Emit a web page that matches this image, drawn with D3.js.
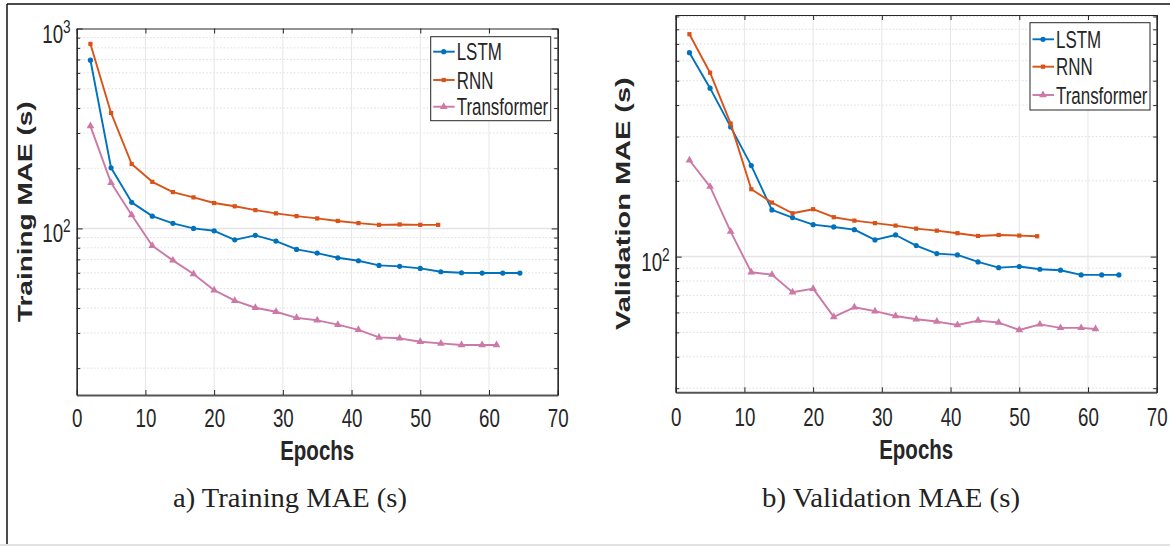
<!DOCTYPE html>
<html>
<head>
<meta charset="utf-8">
<script src="https://cdn.jsdelivr.net/npm/d3@7"></script>
<style>
  body { margin: 0; background: #fff; }
  svg { display: block; }
</style>
</head>
<body>
<div id="chart"></div>
<script>
// epochs at which each model was logged
const lstmEpochs  = [2, 5, 8, 11, 14, 17, 20, 23, 26, 29, 32, 35, 38, 41, 44, 47, 50, 53, 56, 59, 62, 64.5];
const rnnEpochs   = [2, 5, 8, 11, 14, 17, 20, 23, 26, 29, 32, 35, 38, 41, 44, 47, 50, 52.6];
const transEpochs = [2, 5, 8, 11, 14, 17, 20, 23, 26, 29, 32, 35, 38, 41, 44, 47, 50, 53, 56, 59, 61.1];

// training MAE (s)
const trainLSTM  = [694, 201, 135, 115.2, 106, 100, 97.3, 87.7, 92.3, 86.4, 78.5, 75.2, 71.3, 68.9, 65.3, 64.6, 63.1, 60.7, 60.0, 59.8, 59.8, 59.8];
const trainRNN   = [837, 378, 210, 171, 152, 143, 134, 129, 123.5, 118.9, 115.2, 112.2, 109, 106.3, 104.2, 104.7, 104.2, 104.2];
const trainTrans = [325, 169, 116.6, 81.9, 69.2, 59.1, 49.1, 43.5, 40.1, 38.3, 35.7, 34.7, 33, 31.1, 28.5, 28.2, 27.1, 26.6, 26.1, 26.1, 26.1];

// validation MAE (s)
const valLSTM  = [646, 467, 327.6, 229.9, 153.3, 142.9, 134, 131.2, 128, 116.5, 121.9, 110.6, 102.8, 101.6, 95.3, 90.4, 91.3, 89.1, 88.3, 84.6, 84.6, 84.6];
const valRNN   = [765, 538, 337.6, 185.3, 163.9, 148.7, 154.3, 143.4, 139, 135.8, 132.8, 129.2, 126.8, 123.9, 120.8, 121.9, 121.2, 120.5];
const valTrans = [241.5, 189.7, 125.7, 86.7, 84.8, 72.2, 74.6, 57.6, 62.9, 60.7, 58.1, 56.4, 55.2, 53.5, 55.7, 54.7, 51.1, 53.8, 52.1, 52.1, 51.6];

const seriesNames = ['LSTM', 'RNN', 'Transformer'];
const xTicks = [0, 10, 20, 30, 40, 50, 60, 70];
const yMajor = [10, 100, 1000];
const yMinor = [20, 30, 40, 50, 60, 70, 80, 90, 200, 300, 400, 500, 600, 700, 800, 900];

const colors = { LSTM: '#0072BD', RNN: '#D95319', Transformer: '#CC79A7' };
const axisColor = '#262626';
const sx = 0.72; // text looks squeezed sideways

const svg = d3.select('#chart').append('svg')
  .attr('width', 1170)
  .attr('height', 546)
  .style('background', '#fff');

// outer frame
svg.append('line').attr('x1', 7).attr('y1', 4).attr('x2', 1170).attr('y2', 4)
  .attr('stroke', '#111').attr('stroke-width', 1.5);
svg.append('line').attr('x1', 7).attr('y1', 4).attr('x2', 7).attr('y2', 544)
  .attr('stroke', '#111').attr('stroke-width', 1.5);
svg.append('line').attr('x1', 0).attr('y1', 545).attr('x2', 1170).attr('y2', 545)
  .attr('stroke', '#e2e2e2').attr('stroke-width', 2);

function marker(sel, name, cx, cy, col) {
  if (name === 'LSTM') {
    sel.append('circle').attr('cx', cx).attr('cy', cy).attr('r', 2.6).attr('fill', col);
  } else if (name === 'RNN') {
    sel.append('path').attr('d', d3.symbol(d3.symbolSquare, 18)())
      .attr('transform', `translate(${cx},${cy})`).attr('fill', col);
  } else {
    sel.append('path').attr('d', d3.symbol(d3.symbolTriangle, 26)())
      .attr('transform', `translate(${cx},${cy})`).attr('fill', col);
  }
}

function drawPanel(p) {
  const x = d3.scaleLinear().domain([0, 70]).range([p.x0, p.x1]);
  const y = d3.scaleLog().domain(p.yDomain).range([p.y1, p.y0]);
  const g = svg.append('g');
  const inY = v => v >= p.yDomain[0] && v <= p.yDomain[1];

  // grid
  g.selectAll('.ymin').data(yMinor.filter(inY)).enter().append('line')
    .attr('x1', p.x0).attr('x2', p.x1)
    .attr('y1', d => y(d)).attr('y2', d => y(d))
    .attr('stroke', '#d4d4d4').attr('stroke-width', 0.8).attr('stroke-dasharray', '1.5,2');
  g.selectAll('.ymaj').data(yMajor.filter(v => inY(v) && v < p.yDomain[1])).enter().append('line')
    .attr('x1', p.x0).attr('x2', p.x1)
    .attr('y1', d => y(d)).attr('y2', d => y(d))
    .attr('stroke', '#e4e4e4').attr('stroke-width', 1.5);
  g.selectAll('.xgrid').data(xTicks.slice(1, -1)).enter().append('line')
    .attr('x1', d => x(d)).attr('x2', d => x(d))
    .attr('y1', p.y0).attr('y2', p.y1)
    .attr('stroke', '#e6e6e6').attr('stroke-width', 1);

  // series
  p.series.forEach(s => {
    const col = colors[s.name];
    const pts = s.ep.map((e, i) => [e, s.val[i]]);
    g.append('path').datum(pts)
      .attr('fill', 'none').attr('stroke', col).attr('stroke-width', 1.9)
      .attr('stroke-linejoin', 'round')
      .attr('d', d3.line().x(d => x(d[0])).y(d => y(d[1])));
    const mg = g.append('g');
    pts.forEach(d => marker(mg, s.name, x(d[0]), y(d[1]), col));
  });

  // axes (ticks pointing inward)
  const styleAxis = a => {
    a.select('.domain').attr('stroke', axisColor).attr('stroke-width', 1.2);
    a.selectAll('.tick line').attr('stroke', axisColor);
  };
  const bottom = g.append('g').attr('transform', `translate(0,${p.y1})`)
    .call(d3.axisBottom(x).tickValues(xTicks).tickSizeInner(-5).tickSizeOuter(0).tickPadding(13));
  styleAxis(bottom);
  bottom.select('.domain').attr('stroke', '#555').attr('stroke-width', 2);
  bottom.selectAll('.tick text')
    .attr('font-family', 'Liberation Sans, Arial, sans-serif')
    .attr('font-size', 26).attr('fill', '#262626')
    .attr('dy', 0).attr('y', p.tickBase - p.y1)
    .attr('transform', `scale(${sx},1)`);
  const top = g.append('g').attr('transform', `translate(0,${p.y0})`)
    .call(d3.axisTop(x).tickValues(xTicks).tickSizeInner(-5).tickSizeOuter(0).tickFormat(''));
  styleAxis(top);

  [[d3.axisLeft, p.x0], [d3.axisRight, p.x1]].forEach(([ax, px]) => {
    const minor = g.append('g').attr('transform', `translate(${px},0)`)
      .call(ax(y).tickValues(yMinor.filter(inY)).tickSizeInner(-3.5).tickSizeOuter(0).tickFormat(''));
    styleAxis(minor);
    const major = g.append('g').attr('transform', `translate(${px},0)`)
      .call(ax(y).tickValues(yMajor.filter(inY)).tickSizeInner(-6).tickSizeOuter(0).tickFormat(''));
    styleAxis(major);
  });

  // y tick labels like 10^2
  yMajor.filter(inY).forEach(v => {
    const t = g.append('text')
      .attr('transform', `translate(${p.x0 - 6},${y(v) + 14}) scale(${sx},1)`)
      .attr('text-anchor', 'end')
      .attr('font-family', 'Liberation Sans, Arial, sans-serif')
      .attr('font-size', 26).attr('fill', '#262626');
    t.append('tspan').text('10');
    t.append('tspan').attr('dy', -10).attr('font-size', 19).text(Math.round(Math.log10(v)));
  });

  // axis titles
  g.append('text')
    .attr('transform', `translate(${(p.x0 + p.x1) / 2},${p.xTitleBase}) scale(${sx},1)`)
    .attr('text-anchor', 'middle')
    .attr('font-family', 'Liberation Sans, Arial, sans-serif')
    .attr('font-weight', 'bold').attr('font-size', 28.5).attr('fill', '#262626')
    .text('Epochs');
  g.append('text')
    .attr('transform', `translate(${p.yTitleX},${(p.y0 + p.y1) / 2}) scale(${sx},1) rotate(-90)`)
    .attr('text-anchor', 'middle')
    .attr('font-family', 'Liberation Sans, Arial, sans-serif')
    .attr('font-weight', 'bold').attr('font-size', p.yTitleSize).attr('fill', '#262626')
    .text(p.yTitle);

  // legend
  const L = p.legend;
  g.append('rect').attr('x', L.x).attr('y', L.y).attr('width', L.w).attr('height', L.h)
    .attr('fill', '#fff').attr('stroke', axisColor).attr('stroke-width', 1);
  seriesNames.forEach((name, i) => {
    const cy = L.rows[i];
    const col = colors[name];
    g.append('line').attr('x1', L.x + 2.5).attr('x2', L.x + 24)
      .attr('y1', cy).attr('y2', cy).attr('stroke', col).attr('stroke-width', 1.9);
    marker(g, name, L.x + 13, cy, col);
    g.append('text')
      .attr('transform', `translate(${L.x + 26},${cy + 8.5}) scale(${sx},1)`)
      .attr('font-family', 'Liberation Sans, Arial, sans-serif')
      .attr('font-size', 23.5).attr('fill', '#262626')
      .text(name);
  });

  // caption
  svg.append('text')
    .attr('x', p.capX).attr('y', 507)
    .attr('font-family', 'Liberation Serif, Times New Roman, serif')
    .attr('font-size', 28).attr('fill', '#222')
    .attr('textLength', p.capW).attr('lengthAdjust', 'spacingAndGlyphs')
    .text(p.caption);
}

drawPanel({
  x0: 76.7, x1: 557.7, y0: 28.5, y1: 395,
  yDomain: [14.68, 1000],
  tickBase: 426.7, xTitleBase: 460,
  yTitle: 'Training MAE (s)', yTitleX: 32, yTitleSize: 28,
  legend: { x: 430.7, y: 36.7, w: 120, h: 84, rows: [51.7, 80, 106.7] },
  caption: 'a) Training MAE (s)', capX: 173, capW: 234,
  series: [
    { name: 'LSTM', ep: lstmEpochs, val: trainLSTM },
    { name: 'RNN', ep: rnnEpochs, val: trainRNN },
    { name: 'Transformer', ep: transEpochs, val: trainTrans }
  ]
});

drawPanel({
  x0: 675.7, x1: 1156.7, y0: 15, y1: 392.3,
  yDomain: [28.9, 912],
  tickBase: 425.7, xTitleBase: 459,
  yTitle: 'Validation MAE (s)', yTitleX: 630, yTitleSize: 29,
  legend: { x: 1030, y: 22.7, w: 120, h: 87.3, rows: [39.3, 66.7, 95] },
  caption: 'b) Validation MAE (s)', capX: 762, capW: 258,
  series: [
    { name: 'LSTM', ep: lstmEpochs, val: valLSTM },
    { name: 'RNN', ep: rnnEpochs, val: valRNN },
    { name: 'Transformer', ep: transEpochs, val: valTrans }
  ]
});
</script>
</body>
</html>
